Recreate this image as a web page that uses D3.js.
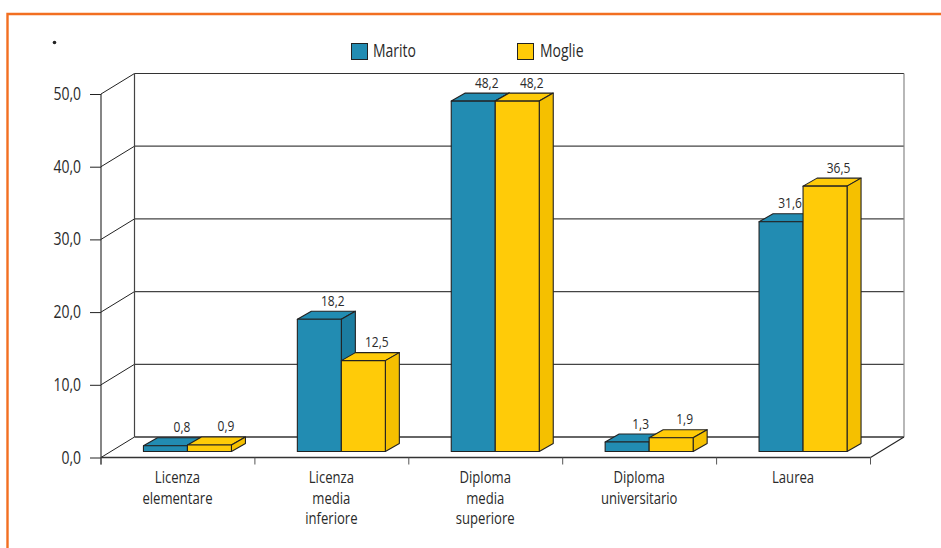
<!DOCTYPE html>
<html><head><meta charset="utf-8">
<script src="https://cdn.jsdelivr.net/npm/d3@7/dist/d3.min.js"></script>
<style>html,body{margin:0;padding:0;background:#fff}svg{display:block}
text{font-family:"Open Sans",sans-serif;fill:#2a2a2a}</style>
</head><body><svg id="c" width="941" height="548"></svg>
<script>
const categories=[["Licenza","elementare"],["Licenza","media","inferiore"],["Diploma","media","superiore"],["Diploma","universitario"],["Laurea"]];
const seriesNames=["Marito","Moglie"];
const marito=[0.8,18.2,48.2,1.3,31.6];
const moglie=[0.9,12.5,48.2,1.9,36.5];
const yTicks=[0,10,20,30,40,50];
const colors=["#228cb2","#ffcb08"];
const darkColors=["#1c7da0","#f5c000"];
const fmt=v=>v.toFixed(1).replace(".",",");
const svg=d3.select("#c");
const W=[101,870.5],Y=[457.5,94],D={x:33.5,y:-20.5},B={x:14,y:-8};
const x=d3.scaleBand().domain(d3.range(categories.length)).range(W);
const y=d3.scaleLinear().domain([0,50]).range(Y);
const ink="#222";
const label=(px,py,s,size,anchor,squeeze=.82)=>svg.append("text").attr("transform",`translate(${px},${py}) scale(${squeeze},1)`).attr("text-anchor",anchor).attr("font-size",size).text(s);
// frame
svg.append("path").attr("d","M7.5,548V14H941").attr("fill","none").attr("stroke","#f26f21").attr("stroke-width",2.4);
svg.append("circle").attr("cx",54.5).attr("cy",42.5).attr("r",1.8).attr("fill","#222");
// walls
const line=(x1,y1,x2,y2,c=ink,w=1)=>svg.append("line").attr("x1",x1).attr("y1",y1).attr("x2",x2).attr("y2",y2).attr("stroke",c).attr("stroke-width",w);
yTicks.forEach(t=>{
  line(W[0],y(t),W[0]+D.x,y(t)+D.y);
  line(W[0]+D.x,y(t)+D.y,W[1]+D.x,y(t)+D.y,t===0||t===50?"#333":"#444",t===0?1.5:1.2);
});
line(W[0]+D.x,y(50)+D.y,W[0]+D.x,y(0)+D.y,"#444",1.2);
line(W[1]+D.x,y(50)+D.y,W[1]+D.x,y(0)+D.y,"#888",1.2);
line(W[1],y(0),W[1]+D.x,y(0)+D.y,ink,1.1);
// axes
const ay=d3.axisLeft(y).tickValues(yTicks).tickFormat(fmt).tickSize(11).tickPadding(5);
const gy=svg.append("g").attr("transform",`translate(${W[0]},0)`).call(ay);
gy.select(".domain").remove();
gy.selectAll("text").remove();
gy.selectAll("line").attr("stroke",ink);
yTicks.forEach(t=>label(81,y(t)+6,fmt(t),17.5,"end",.8));
line(W[0],Y[1],W[0],Y[0]+7,ink,1.1);
line(W[0],Y[0],W[1],Y[0],"#333",1.5);
d3.range(categories.length+1).forEach(i=>{
  const xx=i<categories.length?x(i):W[1];
  line(xx,Y[0],xx,Y[0]+7,"#555",1);
});
// category labels
categories.forEach((c,i)=>{
  c.forEach((s,k)=>label(x(i)+x.bandwidth()/2-.5,483+k*20.6,s,17,"middle",.77));
});
// bars
const bw=44,baseShift=-6,cShift=9.5;
const bars=[];
categories.forEach((c,i)=>{[marito,moglie].forEach((s,k)=>bars.push({i,k,v:s[i]}));});
bars.forEach(d=>{
  const x0=x(d.i)+x.bandwidth()/2+cShift+(d.k-1)*bw, x1=x0+bw;
  const yb=y(0)+baseShift, yt=y(d.v)+baseShift;
  const g=svg.append("g").attr("stroke",ink).attr("stroke-width",1.1).attr("stroke-linejoin","round");
  g.append("path").attr("fill",colors[d.k]).attr("d",`M${x0},${yt}L${x0+B.x},${yt+B.y}H${x1+B.x}L${x1},${yt}Z`);
  g.append("path").attr("fill",darkColors[d.k]).attr("d",`M${x1},${yt}L${x1+B.x},${yt+B.y}V${yb+B.y}L${x1},${yb}Z`);
  g.append("rect").attr("x",x0).attr("y",yt).attr("width",bw).attr("height",yb-yt).attr("fill",colors[d.k]);
});
// value labels, on top of all bars
bars.forEach(d=>{
  const x0=x(d.i)+x.bandwidth()/2+cShift+(d.k-1)*bw;
  const blocked=d.k===0&&moglie[d.i]>marito[d.i]+2;
  const dx=blocked?9:(d.v<1?16.5:13.5);
  label(x0+bw/2+dx+(d.k&&d.v>40?1:0),y(d.v)+baseShift-13.5,fmt(d.v),15,"middle",.8);
});
// legend
[351,517].forEach((lx,k)=>{
  svg.append("rect").attr("x",lx+.5).attr("y",43.5).attr("width",16).attr("height",16).attr("fill",colors[k]).attr("stroke",ink);
  label(lx+(k?23:22),57,seriesNames[k],17.5,"start",.8);
});
</script></body></html>
